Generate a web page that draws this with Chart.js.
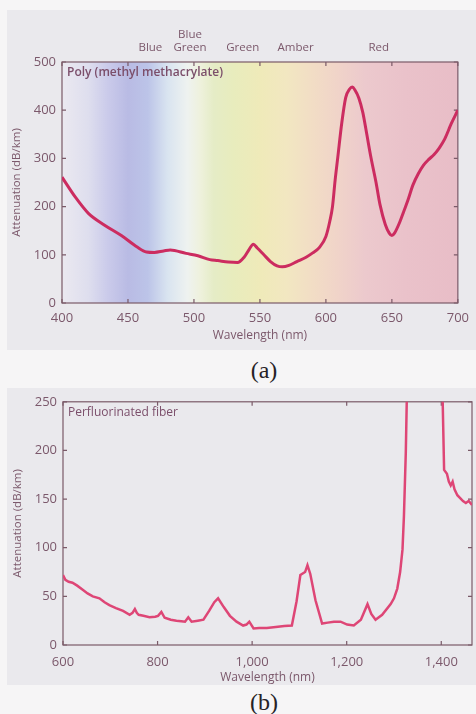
<!DOCTYPE html>
<html>
<head>
<meta charset="utf-8">
<script src="https://cdn.jsdelivr.net/npm/chart.js@4.4.1/dist/chart.umd.min.js"></script>
<style>
  body { margin: 0; background: #f6f5f6; width: 476px; height: 714px; position: relative; overflow: hidden; font-family: "Open Sans", sans-serif; }
  .panel { position: absolute; background: #eae9ed; }
  #pa { left: 7px; top: 10px; width: 469px; height: 340px; }
  #pb { left: 7px; top: 388px; width: 469px; height: 297px; }
  .cap { position: absolute; left: 0; width: 528px; text-align: center; font-family: "Liberation Serif", serif; font-size: 24px; line-height: 24px; color: #262226; }
</style>
</head>
<body>
<div class="panel" id="pa"><canvas id="chartA"></canvas></div>
<div class="cap" style="top:358px">(a)</div>
<div class="panel" id="pb"><canvas id="chartB"></canvas></div>
<div class="cap" style="top:690px">(b)</div>
<script>
// (a) poly(methyl methacrylate)
const pmmaWavelength = [400, 410, 420, 432, 445, 457, 464, 470, 477, 482, 494, 503, 512, 518, 526, 533, 538, 542, 545, 548, 553, 558, 563, 567, 572, 578, 585, 590, 595,
  600, 603, 605, 607, 609, 612, 615, 618, 620, 622, 625, 628, 631, 634, 638, 641, 645, 648, 650, 652, 656, 659, 662, 666, 670, 674, 678, 682, 686, 690, 695, 700];
const pmmaAttenuation = [261, 220, 186, 162, 140, 116, 106, 105, 108, 110, 103, 98, 90, 88, 85, 84, 95, 112, 122, 114, 100, 86, 77, 75, 78, 86, 95, 104, 115,
  138, 170, 200, 255, 302, 373, 426, 444, 448, 442, 425, 395, 350, 304, 250, 204, 163, 145, 140, 145, 168, 190, 212, 245, 268, 286, 298, 308, 322, 340, 372, 400];
const pmmaXTicks = [400, 450, 500, 550, 600, 650, 700];
const pmmaYTicks = [0, 100, 200, 300, 400, 500];
const bandNames = ['Blue', ['Blue', 'Green'], 'Green', 'Amber', 'Red'];
const bandWavelength = [467, 497, 537, 577, 640];

// (b) perfluorinated fiber
const pfWavelength = [600, 605, 612, 620, 630, 641, 652, 663, 677, 688, 698, 712, 727, 741, 747, 752, 756, 760, 770, 783, 795, 801, 808, 815, 828, 840, 850, 858, 865, 872, 885, 897,
  909, 920, 928, 940, 953, 967, 981, 988, 994, 1003, 1015, 1031, 1050, 1068, 1084, 1094, 1102, 1112, 1117, 1123, 1134, 1148, 1160, 1173, 1187, 1201, 1215, 1230, 1244, 1252, 1261,
  1275, 1293, 1300, 1307, 1313, 1318, 1321, 1325, 1327, 1335, 1360, 1390, 1400, 1403, 1406, 1412, 1416, 1420, 1424, 1428, 1434, 1440, 1446, 1452, 1458, 1465];
const pfAttenuation = [72, 67, 65, 64, 61, 57, 53, 50, 48, 44, 41, 38, 35, 31, 33, 37, 33, 31, 30, 28.5, 29, 30, 34, 28, 26, 25, 24.5, 24, 28.5, 24, 25, 26,
  35, 44, 48, 39, 30, 24, 20, 21, 24, 17, 17.5, 17.5, 18.5, 19.5, 20, 45, 72, 75, 82, 73, 46, 22, 23, 24, 24, 21, 20, 26, 42, 32, 26,
  31, 42, 48, 58, 75, 98, 132, 198, 250, 400, 1000, 1000, 400, 250, 180, 176, 168, 164, 168, 160, 154, 151, 148, 146, 148, 144];
const pfXTicks = [600, 800, 1000, 1200, 1400];
const pfYTicks = [0, 50, 100, 150, 200, 250];

const axisColor = '#7a5a68';
const textColor = '#7b586b';

const framePlugin = {
  id: 'frame',
  beforeDraw(chart, args, o) {
    if (!o.spectrum) return;
    const { ctx, chartArea: a, scales: { x } } = chart;
    const g = ctx.createLinearGradient(a.left, 0, a.right, 0);
    o.spectrum.forEach(([w, c]) => g.addColorStop((x.getPixelForValue(w) - a.left) / (a.right - a.left), c));
    ctx.save();
    ctx.fillStyle = g;
    ctx.fillRect(a.left, a.top, a.right - a.left, a.bottom - a.top);
    ctx.restore();
  },
  beforeDatasetsDraw(chart, args, o) {
    const { ctx, chartArea: a, scales: { x, y } } = chart;
    ctx.save();
    ctx.strokeStyle = axisColor;
    ctx.lineWidth = 1.2;
    ctx.strokeRect(a.left, a.top, a.right - a.left, a.bottom - a.top);
    ctx.beginPath();
    x.ticks.forEach(t => {
      const p = x.getPixelForValue(t.value);
      ctx.moveTo(p, a.bottom); ctx.lineTo(p, a.bottom - 4);
      ctx.moveTo(p, a.top); ctx.lineTo(p, a.top + 4);
    });
    y.ticks.forEach(t => {
      const p = y.getPixelForValue(t.value);
      ctx.moveTo(a.left, p); ctx.lineTo(a.left + 4, p);
      ctx.moveTo(a.right, p); ctx.lineTo(a.right - 4, p);
    });
    ctx.stroke();
    // panel title
    ctx.fillStyle = '#7b4e6a';
    ctx.font = (o.bold ? '600 ' : '') + '12px "Open Sans"';
    ctx.textBaseline = 'middle';
    ctx.fillText(o.title, a.left + 5, a.top + 11);
    ctx.restore();
  },
  afterDraw(chart, args, o) {
    if (!o.bands) return;
    const { ctx, scales: { x } } = chart;
    ctx.save();
    ctx.fillStyle = textColor;
    ctx.font = '11.5px "Open Sans"';
    ctx.textAlign = 'center';
    ctx.textBaseline = 'middle';
    bandNames.forEach((name, i) => {
      const px = x.getPixelForValue(bandWavelength[i]);
      const lines = Array.isArray(name) ? name : [name];
      lines.forEach((s, j) => ctx.fillText(s, px, 38 - (lines.length - 1 - j) * 13));
    });
    ctx.restore();
  }
};

function makeChart(id, xs, ys, cfg) {
  return new Chart(document.getElementById(id), {
    type: 'line',
    data: {
      datasets: [{
        data: xs.map((w, i) => ({ x: w, y: ys[i] })),
        borderColor: cfg.lineColor,
        borderWidth: cfg.lineWidth,
        pointRadius: 0,
        tension: cfg.tension,
        cubicInterpolationMode: cfg.tension ? 'monotone' : 'default'
      }]
    },
    options: {
      responsive: true,
      maintainAspectRatio: false,
      animation: false,
      layout: { padding: cfg.padding },
      plugins: {
        legend: { display: false },
        tooltip: { enabled: false },
        frame: cfg.frame
      },
      scales: {
        x: {
          type: 'linear',
          min: cfg.xMin, max: cfg.xMax,
          afterBuildTicks: s => { s.ticks = cfg.xTicks.map(v => ({ value: v })); },
          afterFit: s => { s.height = cfg.xHeight; },
          grid: { display: false, drawTicks: false },
          border: { display: false },
          ticks: { color: textColor, font: { family: 'Open Sans', size: 13 }, padding: cfg.xTickPad, maxRotation: 0 },
          title: { display: true, text: 'Wavelength (nm)', color: textColor, font: { family: 'Open Sans', size: 12 }, padding: { top: 0, bottom: cfg.xTitlePad } }
        },
        y: {
          min: 0, max: cfg.yMax,
          afterBuildTicks: s => { s.ticks = cfg.yTicks.map(v => ({ value: v })); },
          afterFit: s => { s.width = cfg.yWidth; },
          grid: { display: false, drawTicks: false },
          border: { display: false },
          ticks: { color: textColor, font: { family: 'Open Sans', size: 13 }, padding: 6 },
          title: { display: true, text: 'Attenuation (dB/km)', color: textColor, font: { family: 'Open Sans', size: 11.5 }, padding: { top: cfg.yTitlePad, bottom: 0 } }
        }
      }
    },
    plugins: [framePlugin]
  });
}

makeChart('chartA', pmmaWavelength, pmmaAttenuation, {
  lineColor: '#cc2c60', lineWidth: 3, tension: 0.4,
  padding: { top: 52, right: 13, left: 0, bottom: 0 },
  xMin: 400, xMax: 700, xTicks: pmmaXTicks, xHeight: 47, xTickPad: 7, xTitlePad: 7,
  yMax: 500, yTicks: pmmaYTicks, yWidth: 55, yTitlePad: 3,
  frame: {
    title: 'Poly (methyl methacrylate)', bold: true, bands: true,
    spectrum: [[400, '#ebe9f0'], [420, '#dedeee'], [435, '#cacaea'], [450, '#b9bbe4'], [465, '#bcc4e8'], [480, '#d9e4f0'],
      [495, '#eef2f0'], [505, '#eef1dc'], [515, '#e5ecc6'], [530, '#e8ecbd'], [550, '#efeab9'], [570, '#f2e7c1'],
      [590, '#f2ddc5'], [610, '#f0d3c9'], [630, '#ecc9cd'], [660, '#eac2ca'], [700, '#e8bdc7']]
  }
});

makeChart('chartB', pfWavelength, pfAttenuation, {
  lineColor: '#de4676', lineWidth: 2.5, tension: 0,
  padding: { top: 8, right: 4, left: 0, bottom: 0 },
  xMin: 600, xMax: 1465, xTicks: pfXTicks, xHeight: 40, xTickPad: 9, xTitlePad: 0,
  yMax: 250, yTicks: pfYTicks, yWidth: 56, yTitlePad: 4,
  frame: { title: 'Perfluorinated fiber', bold: false }
});
</script>
</body>
</html>
